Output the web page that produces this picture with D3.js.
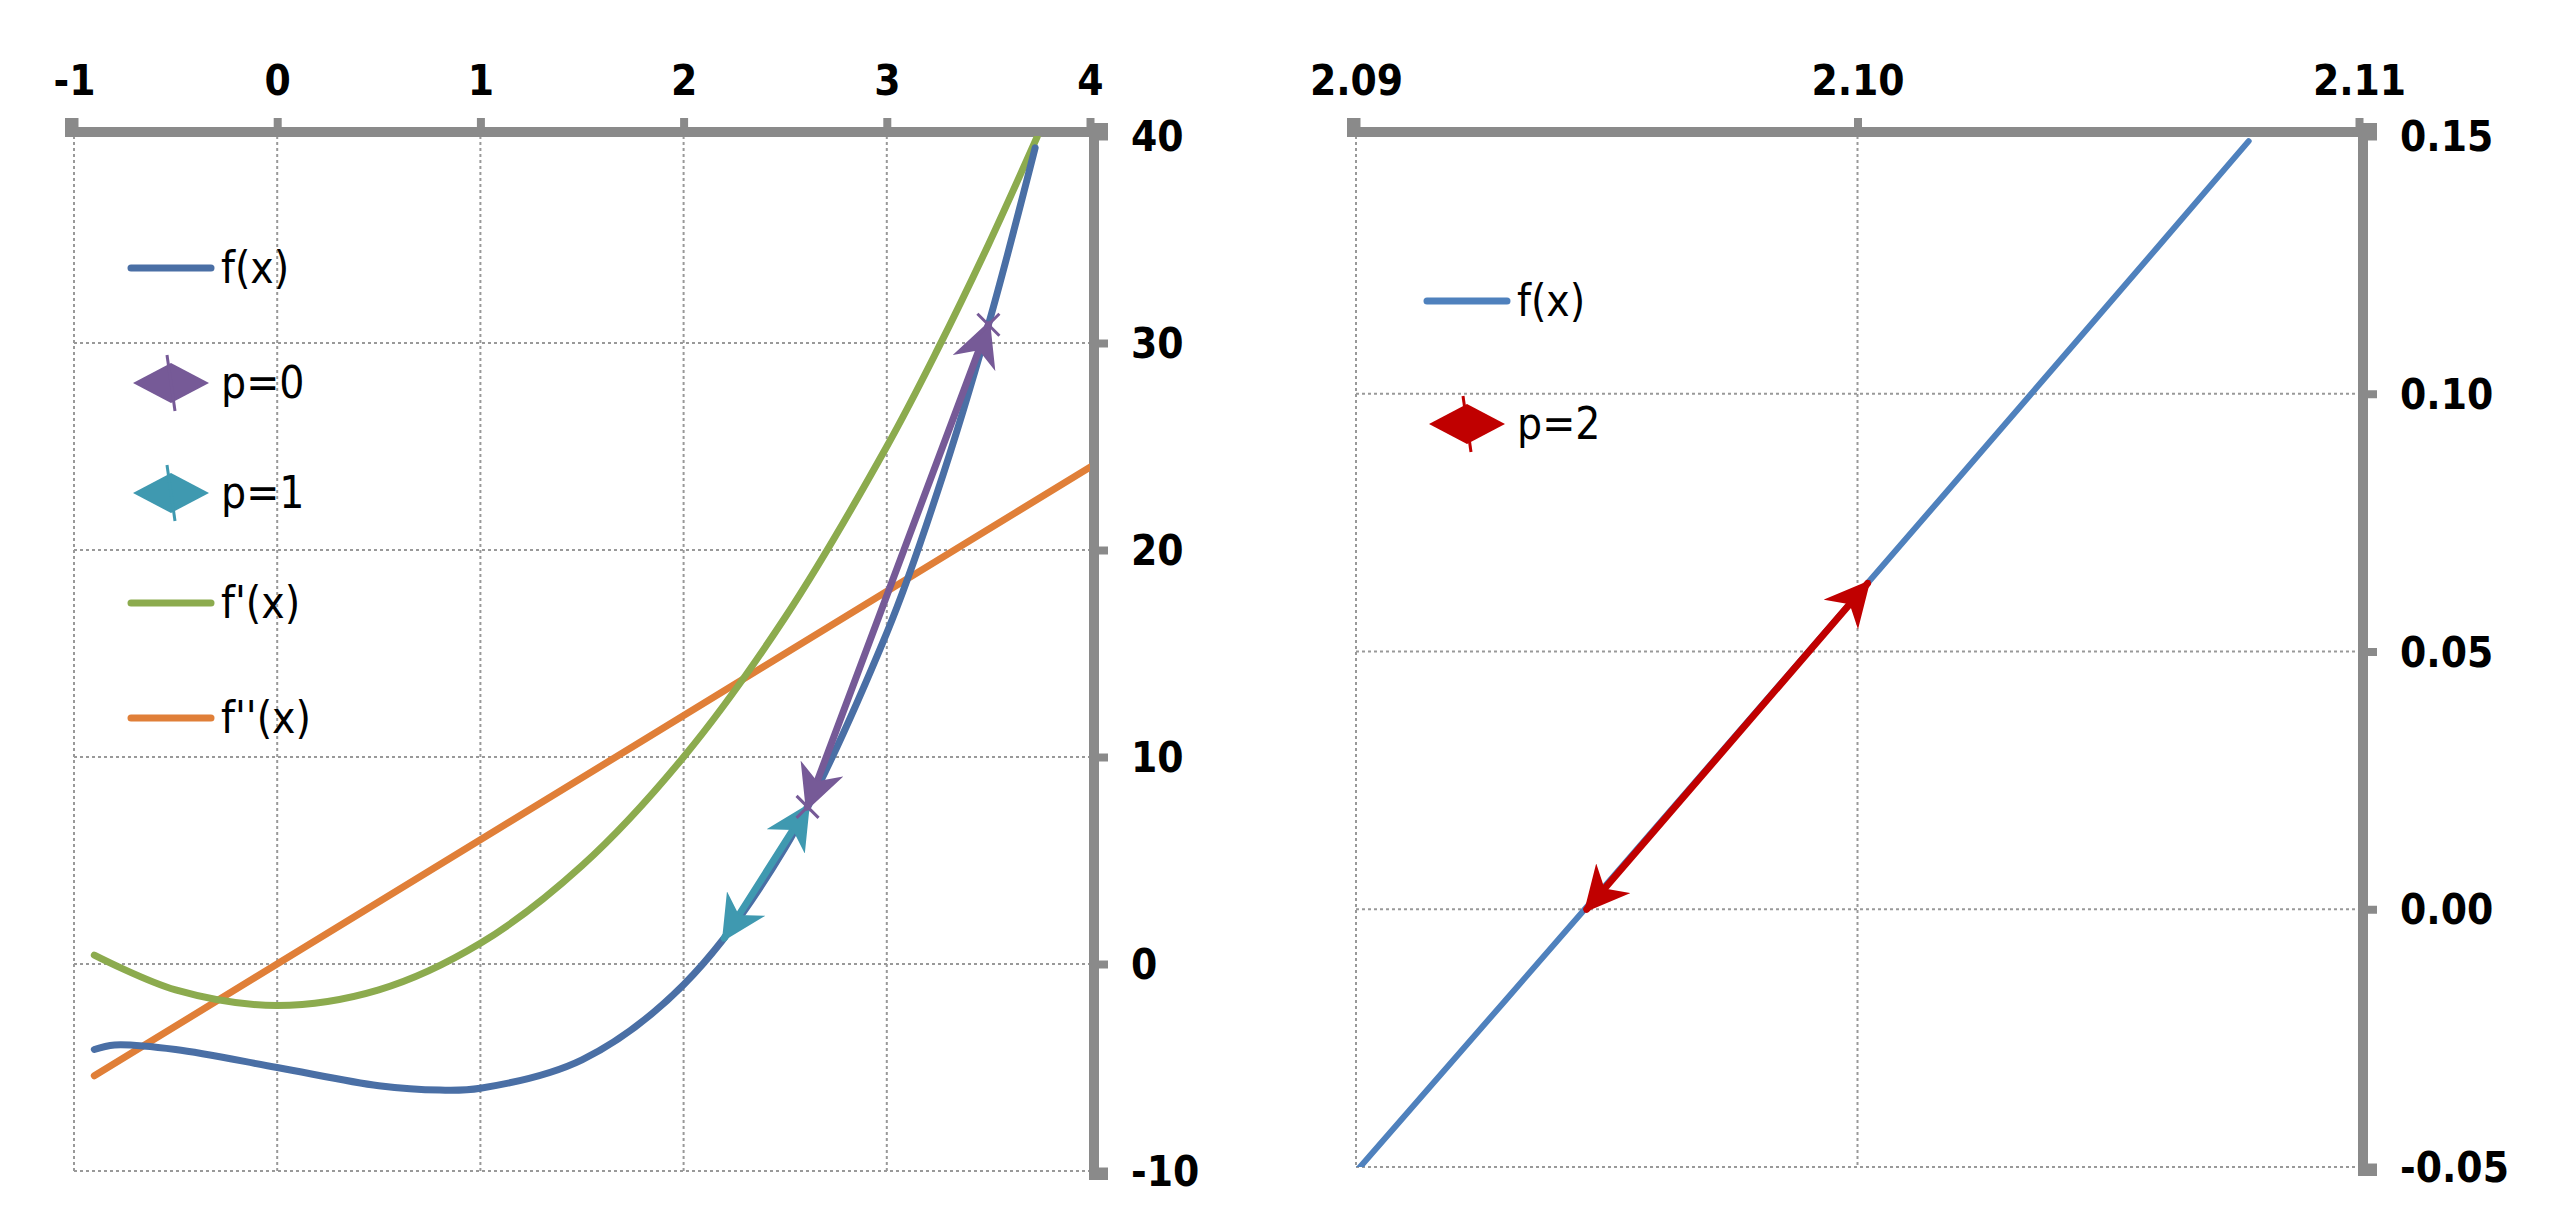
<!DOCTYPE html>
<html><head><meta charset="utf-8">
<script src="https://cdn.jsdelivr.net/npm/d3@7"></script>
<style>body{margin:0;background:#fff}</style></head>
<body><svg id="c" width="2564" height="1227"></svg>
<script>
// ---- data ----
const fX   = [-0.9,-0.8,-0.5,0,0.5,0.8,1,1.5,2,2.5,3,3.25,3.5,3.73];
const fY   = [-4.13,-3.91,-4.13,-5,-5.88,-6.09,-6,-4.63,-1,5.63,16,22.83,30.88,39.43];
const d1X  = [-0.9,-0.5,0,0.5,1,1.5,2,2.5,3,3.25,3.5,3.74];
const d1Y  = [0.43,-1.25,-2,-1.25,1,4.75,10,16.75,25,29.69,34.75,39.96];
const d2X  = [-0.9,4];
const d2Y  = [-5.4,24];
const p0X  = [3.5,2.61];  const p0Y = [30.88,7.59];
const p1X  = [2.61,2.2];  const p1Y = [7.59,1.25];
const rfX  = [2.09,2.095,2.10,2.105,2.1078];
const rfY  = [-0.0509,0.0049,0.061,0.1173,0.149];
const p2X  = [2.1002,2.0946]; const p2Y = [0.0632,0.0];
const leftXTicks = [-1,0,1,2,3,4];
const leftYTicks = [40,30,20,10,0,-10];
const rightXTicks = [2.09,2.10,2.11];
const rightYTicks = [0.15,0.10,0.05,0.00,-0.05];
const leftLegend = ["f(x)","p=0","p=1","f'(x)","f''(x)"];
const rightLegend = ["f(x)","p=2"];

const C = {f:"#4a6fa5", p0:"#765a97", p1:"#3f99b0", d1:"#8cab4e", d2:"#e07f38", rf:"#4f81bd", p2:"#c00000"};
const svg = d3.select("#c");
const font = "'Liberation Sans Narrow','DejaVu Sans Condensed',sans-serif";
const defs = svg.append("defs");
function marker(id,col){
  defs.append("marker").attr("id",id).attr("viewBox","0 0 10 10").attr("refX",9).attr("refY",5)
   .attr("markerWidth",6.5).attr("markerHeight",6.5).attr("orient","auto-start-reverse")
   .attr("markerUnits","strokeWidth")
   .append("path").attr("d","M0,0L10,5L0,10L3,5Z").attr("fill",col);
}
marker("m0",C.p0);marker("m1",C.p1);marker("m2",C.p2);
const hy = f => d => f(d).replace("\u2212","-");

function panel(o){
  const x=d3.scaleLinear().domain(o.xd).range([o.x0,o.x1]);
  const y=d3.scaleLinear().domain(o.yd).range([o.y1,o.y0]);
  const g=svg.append("g");
  const cid="clip"+o.id;
  defs.append("clipPath").attr("id",cid).append("rect").attr("x",o.x0).attr("y",o.y0).attr("width",o.x1-o.x0).attr("height",o.y1-o.y0);
  g.selectAll(".vg").data(o.xt.slice(0,-1)).join("line").attr("x1",d=>x(d)).attr("x2",d=>x(d)).attr("y1",o.y0).attr("y2",o.y1)
    .attr("stroke","#999").attr("stroke-width",2).attr("stroke-dasharray","3,3");
  g.selectAll(".hg").data(o.yt.slice(1)).join("line").attr("y1",d=>y(d)).attr("y2",d=>y(d)).attr("x1",o.x0).attr("x2",o.x1)
    .attr("stroke","#999").attr("stroke-width",2).attr("stroke-dasharray","3,3");
  const ax=g.append("g").attr("transform",`translate(0,${o.y0-4})`).call(d3.axisTop(x).tickValues(o.xt).tickSize(14).tickFormat(hy(o.xf)));
  const ay=g.append("g").attr("transform",`translate(${o.x1+4},0)`).call(d3.axisRight(y).tickValues(o.yt).tickSize(14).tickFormat(hy(o.yf)));
  [ax,ay].forEach(a=>{a.select(".domain").attr("stroke","#8a8a8a").attr("stroke-width",10);
    a.selectAll(".tick line").attr("stroke","#8a8a8a").attr("stroke-width",8);
    a.selectAll("text").attr("font-family",font).attr("font-weight","bold").attr("font-size",42).attr("fill","#000");});
  ax.select(".domain").attr("d",`M${o.x0-4},-14V0H${o.x1+8}`);
  ay.select(".domain").attr("d",`M14,${o.y0-8}H0V${o.y1+4}H14`);
  ax.selectAll("text").attr("dy",-20);
  ay.selectAll("text").attr("dx",20).attr("dy","0.35em");
  const pg=g.append("g").attr("clip-path",`url(#${cid})`);
  const line=(xs,ys,col,w,mk)=>{
    const p=svg.append("path").datum(xs.map((v,i)=>[v,ys[i]]))
      .attr("d",d3.line().x(d=>x(d[0])).y(d=>y(d[1])).curve(d3.curveCatmullRom))
      .attr("fill","none").attr("stroke",col).attr("stroke-width",w).attr("stroke-linecap","round");
    if(mk){p.attr("marker-start",`url(#${mk})`).attr("marker-end",`url(#${mk})`);}
    else p.attr("clip-path",`url(#${cid})`);
    return p;
  };
  return {x,y,line,g};
}
function xmark(P,xv,yv,col){
  const cx=P.x(xv),cy=P.y(yv),s=11;
  svg.append("path").attr("d",`M${cx-s},${cy-s}L${cx+s},${cy+s}M${cx-s},${cy+s}L${cx+s},${cy-s}`).attr("stroke",col).attr("stroke-width",3);
}
const L=panel({id:"L",xd:[-1,4],yd:[-10,40],x0:74,x1:1090,y0:136,y1:1171,xt:leftXTicks,yt:leftYTicks,xf:d3.format("d"),yf:d3.format("d")});
L.line(d2X,d2Y,C.d2,7);
L.line(d1X,d1Y,C.d1,7);
L.line(fX,fY,C.f,7);
L.line(p1X,p1Y,C.p1,7,"m1");
L.line(p0X,p0Y,C.p0,7,"m0");
xmark(L,p0X[0],p0Y[0],C.p0);xmark(L,p0X[1],p0Y[1],C.p0);

const R=panel({id:"R",xd:[2.09,2.11],yd:[-0.05,0.15],x0:1356,x1:2359,y0:136,y1:1167,xt:rightXTicks,yt:rightYTicks,xf:d3.format(".2f"),yf:d3.format(".2f")});
R.line(rfX,rfY,C.rf,6);
R.line(p2X,p2Y,C.p2,7,"m2");

function legend(items,cols,x0,ys,types){
  items.forEach((t,i)=>{
    const g=svg.append("g");
    if(types[i]==="line") g.append("line").attr("x1",x0).attr("x2",x0+80).attr("y1",ys[i]).attr("y2",ys[i]).attr("stroke",cols[i]).attr("stroke-width",7).attr("stroke-linecap","round");
    else {
      const cx=x0+40,cy=ys[i];
      g.append("path").attr("d",`M${cx-38},${cy}L${cx},${cy-20}L${cx+38},${cy}L${cx},${cy+20}Z`).attr("fill",cols[i]);
      g.append("path").attr("d",`M${cx-4},${cy-28}L${cx+4},${cy+28}`).attr("stroke",cols[i]).attr("stroke-width",3);
    }
    g.append("text").attr("x",x0+90).attr("y",ys[i]).attr("dy","0.35em").text(t)
      .attr("font-family",font).attr("font-size",44).attr("fill","#000");
  });
}
legend(leftLegend,[C.f,C.p0,C.p1,C.d1,C.d2],131,[268,383,493,603,718],["line","m","m","line","line"]);
legend(rightLegend,[C.rf,C.p2],1427,[301,424],["line","m"]);
</script></body></html>
